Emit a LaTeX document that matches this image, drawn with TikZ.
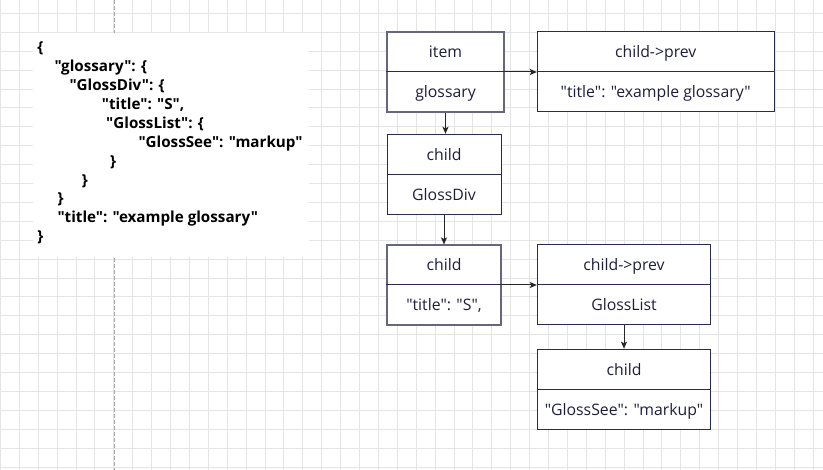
\documentclass[tikz,border=0pt]{standalone}
\usepackage{fontspec}
\newfontfamily\uifont{Open Sans}
\usetikzlibrary{arrows.meta}
\definecolor{gridc}{HTML}{E4E4E4}
\definecolor{dashc}{HTML}{A8A8A8}
\definecolor{boxc}{HTML}{2A2A50}
\definecolor{boxgc}{HTML}{66667F}
\definecolor{txtc}{HTML}{1E1E3C}
\begin{document}
\begin{tikzpicture}[x=1pt,y=-1pt,
  gridline/.style={draw=gridc,line width=0.9pt},
  sepline/.style={draw=dashc,line width=1pt,dash pattern=on 4pt off 2pt},
  json/.style={anchor=base west,inner sep=0pt,font=\uifont\fontsize{15.2}{18}\selectfont\bfseries,text=black},
  ubox/.style={draw=boxc,fill=white,line width=1pt,minimum height=80pt,inner sep=0pt},
  uboxg/.style={ubox,draw=boxgc,line width=1.1pt},
  lbl/.style={anchor=base,inner sep=0pt,font=\uifont\fontsize{15.8}{18}\selectfont,text=txtc},
  divider/.style={draw=boxc,line width=1pt},
  arr/.style={draw=black!85,line width=1pt,-{Stealth[length=7pt,width=6pt,inset=1.5pt]}}
]
\useasboundingbox (0,0) rectangle (823,470);
\fill[white] (0,0) rectangle (823,470);
% grid
\foreach \k in {0,...,43} \draw[gridline] ({0.4+18.9*\k},0) -- ({0.4+18.9*\k},470);
\foreach \k in {0,...,24} \draw[gridline] (0,{13.4+18.9*\k}) -- (823,{13.4+18.9*\k});
% dashed separator
\draw[sepline] (114.6,0) -- (114.6,470);
% json panel
\fill[white] (33,33) rectangle (309,257);
\node[json] (j0) at (37.3,52.8) {\{};
\node[json] (j1) at (54.3,71.7) {"glossary": \{};
\node[json] (j2) at (69.3,90.6) {"GlossDiv": \{};
\node[json] (j3) at (101.7,109.5) {"title": "S",};
\node[json] (j4) at (106,128.4) {"GlossList": \{};
\node[json] (j5) at (138.3,147.3) {"GlossSee": "markup"};
\node[json] (j6) at (110,166.2) {\}};
\node[json] (j7) at (81.7,185.1) {\}};
\node[json] (j8) at (57.3,204) {\}};
\node[json] (j9) at (57.3,222.9) {"title": "example glossary"};
\node[json] (j10) at (37.3,241.8) {\}};
% boxes
\node[uboxg,minimum width=117pt] (item) at (445.5,72) {};
\node[ubox,minimum width=236.7pt] (prevA) at (655.7,72) {};
\node[ubox,minimum width=114pt] (div) at (444,174.3) {};
\node[uboxg,minimum width=114pt] (tits) at (444,285) {};
\node[ubox,minimum width=173.4pt] (list) at (624,285) {};
\node[ubox,minimum width=173.4pt] (see) at (624,389.2) {};
\foreach \b in {item,prevA,div,tits,list,see} \draw[divider] (\b.west) -- (\b.east);
% labels
\node[lbl] (itemT) at (445.5,58) {item};
\node[lbl] (itemB) at (445.5,98) {glossary};
\node[lbl] (prevAT) at (655.7,58) {child->prev};
\node[lbl] (prevAB) at (655.7,98) {"title": "example glossary"};
\node[lbl] (divT) at (444,160.3) {child};
\node[lbl] (divB) at (444,200.3) {GlossDiv};
\node[lbl] (titsT) at (444,271) {child};
\node[lbl] (titsB) at (444,311) {"title": "S",};
\node[lbl] (listT) at (624,271) {child->prev};
\node[lbl] (listB) at (624,311) {GlossList};
\node[lbl] (seeT) at (624,375.1) {child};
\node[lbl] (seeB) at (624,415.3) {"GlossSee": "markup"};
% arrows
\draw[arr] (item.east) -- (prevA.west);
\draw[arr] (item.south) -- (item.south |- div.north);
\draw[arr] (div.south) -- (tits.north);
\draw[arr] (tits.east) -- (list.west);
\draw[arr] (list.south) -- (see.north);
\end{tikzpicture}
\end{document}
